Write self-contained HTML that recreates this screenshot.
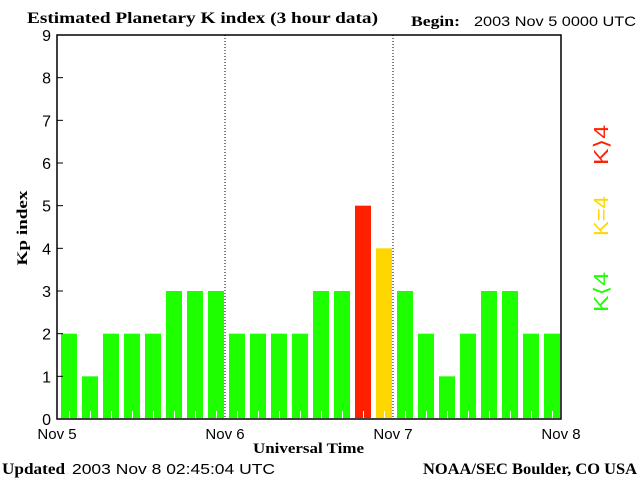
<!DOCTYPE html>
<html><head><meta charset="utf-8"><style>
body{margin:0;background:#fff;width:640px;height:480px;overflow:hidden}
svg{display:block}
text{font-family:"Liberation Sans",sans-serif}
.serif{font-family:"Liberation Serif",serif;font-weight:bold}
</style></head><body>
<svg id="c" width="640" height="480">
<text class="serif" x="27" y="23" font-size="16" textLength="351" lengthAdjust="spacingAndGlyphs">Estimated Planetary K index (3 hour data)</text>
<text class="serif" x="411" y="26" font-size="15" textLength="49" lengthAdjust="spacingAndGlyphs">Begin:</text>
<text x="474" y="26" font-size="14" textLength="162" lengthAdjust="spacingAndGlyphs">2003 Nov 5 0000 UTC</text>
<g id="bars"></g>
<g id="axes"></g>
<text class="serif" transform="translate(27,228) rotate(-90)" text-anchor="middle" font-size="15" textLength="75" lengthAdjust="spacingAndGlyphs">Kp index</text>
<text class="serif" x="253" y="453" font-size="15" textLength="111" lengthAdjust="spacingAndGlyphs">Universal Time</text>
<text class="serif" x="2" y="474" font-size="16" textLength="63" lengthAdjust="spacingAndGlyphs">Updated</text>
<text x="72" y="474" font-size="15" textLength="203" lengthAdjust="spacingAndGlyphs">2003 Nov  8 02:45:04 UTC</text>
<text class="serif" x="423" y="474" font-size="16" textLength="214" lengthAdjust="spacingAndGlyphs">NOAA/SEC Boulder, CO USA</text>
<text transform="translate(608,292) rotate(-90)" text-anchor="middle" font-size="20" fill="#1eff00" textLength="40" lengthAdjust="spacingAndGlyphs">K⟨4</text>
<text transform="translate(608,216) rotate(-90)" text-anchor="middle" font-size="20" fill="#ffd700" textLength="40" lengthAdjust="spacingAndGlyphs">K=4</text>
<text transform="translate(608,145) rotate(-90)" text-anchor="middle" font-size="20" fill="#ff2000" textLength="40" lengthAdjust="spacingAndGlyphs">K⟩4</text>
</svg>
<script>
const kpValues=[2,1,2,2,2,3,3,3,2,2,2,2,3,3,5,4,3,2,1,2,3,3,2,2];
const yTicks=[0,1,2,3,4,5,6,7,8,9];
const dayLabels=["Nov 5","Nov 6","Nov 7","Nov 8"];
const NS="http://www.w3.org/2000/svg";
const L=57,R=561,T=35,B=419;
const slot=(R-L)/kpValues.length;
const x=i=>L+i*slot;
const y=v=>B-v*(B-T)/9;
function mk(tag,attrs,parent){const e=document.createElementNS(NS,tag);for(const k in attrs)e.setAttribute(k,attrs[k]);parent.appendChild(e);return e;}
const bars=document.getElementById('bars'),axes=document.getElementById('axes');
kpValues.forEach((v,i)=>{
 const col=v>4?'#ff2000':(v===4?'#ffd700':'#1eff00');
 const r=mk('rect',{x:x(i)+4,y:y(v),width:16,height:B-y(v)-1,fill:col},bars);
 
 
 const t=mk('line',{x1:x(i)+12.5,x2:x(i)+12.5,y1:B-8,y2:B-1,stroke:'#fff','stroke-width':1},bars);
 
 
});
const fr=mk('rect',{x:L,y:T,width:R-L,height:B-T,fill:'none',stroke:'#000','stroke-width':1.5},axes);


yTicks.forEach(v=>{
 mk('line',{x1:L,x2:L+6,y1:y(v),y2:y(v),stroke:'#000'},axes);
 const t=mk('text',{x:L-6,y:y(v)+6,'text-anchor':'end','font-size':16},axes);
 t.textContent=v;
 
 
});
dayLabels.forEach((d,i)=>{
 const xx=L+i*8*slot;
 if(i>0&&i<3){const l=mk('line',{x1:xx,x2:xx,y1:T,y2:B,stroke:'#000','stroke-dasharray':'1,2'},axes);
  
  }
 const t=mk('text',{x:xx,y:439,'text-anchor':'middle','font-size':15},axes);
 t.textContent=d;
 
 
});
</script>
</body></html>
